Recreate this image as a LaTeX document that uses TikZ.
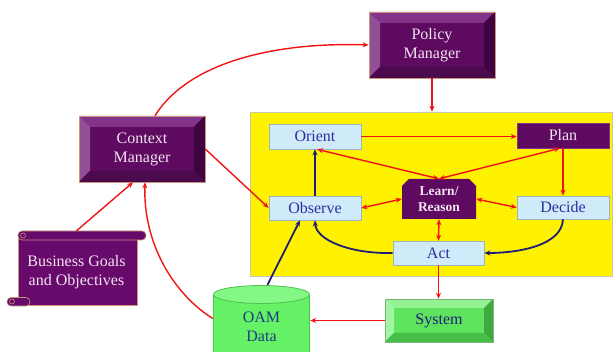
\documentclass[tikz,border=0pt]{standalone}
\usepackage{fontspec}
\setmainfont{Liberation Serif}
\usetikzlibrary{arrows.meta}
\definecolor{pmid}{HTML}{5E0A60}
\definecolor{ptop}{HTML}{83338A}
\definecolor{pleft}{HTML}{915094}
\definecolor{pright}{HTML}{3E0341}
\definecolor{pbot}{HTML}{4B0A4E}
\definecolor{pedge}{HTML}{C8967A}
\definecolor{ptext}{HTML}{F2E4F2}
\definecolor{gmid}{HTML}{5EE35E}
\definecolor{gtop}{HTML}{93F393}
\definecolor{gleft}{HTML}{A2F5A2}
\definecolor{gright}{HTML}{3DAA3D}
\definecolor{gbot}{HTML}{47BE47}
\definecolor{gedge}{HTML}{7FB27F}
\definecolor{cylbody}{HTML}{66F266}
\definecolor{cyltop}{HTML}{84F884}
\definecolor{cyledge}{HTML}{4CC24C}
\definecolor{lblue}{HTML}{CFEBFA}
\definecolor{lbord}{HTML}{9DB4C0}
\definecolor{btext}{HTML}{2A2E9C}
\definecolor{ybord}{HTML}{C9C9A8}
\definecolor{arrred}{HTML}{F01414}
\definecolor{navyc}{HTML}{1E1E78}
\definecolor{goalc}{HTML}{680A6B}
\definecolor{oamtext}{HTML}{1E3C80}
\tikzset{
  bevel/.style n args={6}{fill=#6, path picture={
      \coordinate (bnw) at (path picture bounding box.north west);
      \coordinate (bne) at (path picture bounding box.north east);
      \coordinate (bsw) at (path picture bounding box.south west);
      \coordinate (bse) at (path picture bounding box.south east);
      \fill[#2] (bnw) -- (bne) -- ([shift={(-#1,#1)}]bne) -- ([shift={(#1,#1)}]bnw) -- cycle;
      \fill[#3] (bnw) -- (bsw) -- ([shift={(#1,-#1)}]bsw) -- ([shift={(#1,#1)}]bnw) -- cycle;
      \fill[#4] (bne) -- (bse) -- ([shift={(-#1,-#1)}]bse) -- ([shift={(-#1,#1)}]bne) -- cycle;
      \fill[#5] (bsw) -- (bse) -- ([shift={(-#1,-#1)}]bse) -- ([shift={(#1,-#1)}]bsw) -- cycle;
    }},
  txt/.style={font=\fontsize{16}{19}\selectfont, align=center, inner sep=0pt},
  mgr/.style={txt, bevel={11}{ptop}{pleft}{pright}{pbot}{pmid}, draw=pedge, line width=0.6pt,
    minimum width=126pt, minimum height=66pt, text=ptext},
  sysbox/.style={txt, bevel={9}{gtop}{gleft}{gright}{gbot}{gmid}, draw=gedge, line width=0.6pt,
    minimum width=108pt, minimum height=43pt, text=navyc},
  lbox/.style={txt, fill=lblue, draw=lbord, line width=0.6pt, text=btext, minimum height=24pt},
  pbox/.style={txt, fill=pmid, draw=ptop, line width=0.6pt, text=ptext, minimum height=25pt},
  learnbox/.style={minimum width=74pt, minimum height=40pt, inner sep=0pt, text=ptext,
    font=\fontsize{13.5}{16}\selectfont\bfseries, align=center,
    path picture={\fill[pmid] ([shift={(7,0)}]path picture bounding box.north west)
      -- ([shift={(-7,0)}]path picture bounding box.north east)
      -- ([shift={(0,7)}]path picture bounding box.north east)
      -- (path picture bounding box.south east)
      -- (path picture bounding box.south west)
      -- ([shift={(0,7)}]path picture bounding box.north west) -- cycle;}},
  cyl/.style={minimum width=97pt, minimum height=67pt, inner sep=0pt,
    path picture={
      \fill[cylbody] ([shift={(0,9)}]path picture bounding box.north west) rectangle (path picture bounding box.south east);
      \draw[cyledge, line width=0.8pt] ([shift={(0.5,9)}]path picture bounding box.north west) -- ([shift={(0.5,0)}]path picture bounding box.south west);
      \draw[cyledge, line width=0.8pt] ([shift={(-0.5,9)}]path picture bounding box.north east) -- ([shift={(-0.5,0)}]path picture bounding box.south east);
      \filldraw[fill=cyltop, draw=cyledge, line width=0.8pt] ([shift={(0,9.5)}]path picture bounding box.north) ellipse [x radius=48, y radius=9];
    }},
  redarr/.style={draw=arrred, line width=1.4pt, -{Stealth[length=6pt,width=5pt]}},
  redbi/.style={draw=arrred, line width=1.4pt, {Stealth[length=6pt,width=5pt]}-{Stealth[length=6pt,width=5pt]}},
  navyarr/.style={draw=navyc, line width=1.8pt, -{Stealth[length=6pt,width=5pt]}}
}
\begin{document}
\begin{tikzpicture}[x=1pt,y=-1pt]
\useasboundingbox (0,0) rectangle (614,352);
\fill[white] (0,0) rectangle (614,352);

% yellow loop area
\node[draw=ybord, fill=yellow, line width=0.6pt, minimum width=362pt, minimum height=164pt, inner sep=0pt] (loop) at (431,194) {};

% business goals scroll
\filldraw[fill=goalc, draw=pedge, line width=0.6pt] (18,236) rectangle (137,305.5);
\filldraw[fill=goalc, draw=pedge, line width=0.6pt, rounded corners=4pt] (18,231) rectangle (146,240);
\draw[pedge, line width=0.6pt] (23,235.5) circle [radius=2.5];
\filldraw[fill=goalc, draw=pedge, line width=0.6pt, rounded corners=4pt] (7,297.5) rectangle (30,306);
\draw[pedge, line width=0.6pt] (12,301.5) circle [radius=2.5];
\node[txt, text=ptext, minimum width=139pt, minimum height=82pt] (goals) at (76.5,272) {Business Goals\\and Objectives};

% managers
\node[mgr] (policy) at (432,45) {Policy\\Manager};
\node[mgr] (context) at (142,149) {Context\\Manager};

% loop nodes
\node[lbox, minimum width=92pt, minimum height=25pt] (orient) at (315,136.5) {Orient};
\node[lbox, minimum width=92pt] (observe) at (315,208) {Observe};
\node[lbox, minimum width=91pt] (act) at (438.5,253) {Act};
\node[lbox, minimum width=92pt, minimum height=23pt] (decide) at (563,207.5) {Decide};
\node[pbox, minimum width=92pt] (plan) at (563,135.5) {Plan};
\node[learnbox] (learn) at (439,199) {Learn/\\Reason};

% system and data
\node[sysbox] (system) at (439,320.5) {System};
\node[cyl] (oam) at (261.5,318.5) {};
\node[txt, text=oamtext] (oamtxt) at (261.5,327) {OAM\\Data};

% connectors
\draw[redarr] ([xshift=13pt]context.north) .. controls (190,60) and (280,42) .. (policy.west);
\draw[redarr] (policy.south) -- (policy.south |- loop.north);
\draw[redarr] (context.east) -- (observe.west);
\draw[redarr] (goals.north) -- ([xshift=-9pt]context.south);
\draw[redarr] (oam.west) .. controls (175,295) and (143,245) .. ([xshift=3pt]context.south);
\draw[navyarr] ([xshift=6pt]oam.north) -- ([xshift=-15pt]observe.south);
\draw[redarr] (act.south) -- (act.south |- system.north);
\draw[redarr] (system.west) -- (oam.east |- system.west);
\draw[redarr] (orient.east) -- (orient.east -| plan.west);
\draw[navyarr] (observe.north) -- (orient.south);
\draw[redbi] (learn.north) -- ([xshift=2pt]orient.south);
\draw[redbi] (learn.north) -- ([xshift=-3pt]plan.south);
\draw[redarr] (plan.south) -- (decide.north);
\draw[redbi] (learn.west) -- (observe.east);
\draw[redbi] (learn.east) -- (decide.west);
\draw[redbi] (learn.south) -- (act.north);
\draw[navyarr] (decide.south) .. controls (562,245) and (520,253) .. (act.east);
\draw[navyarr] (act.west) .. controls (350,254) and (316,240) .. (observe.south);
\end{tikzpicture}
\end{document}
